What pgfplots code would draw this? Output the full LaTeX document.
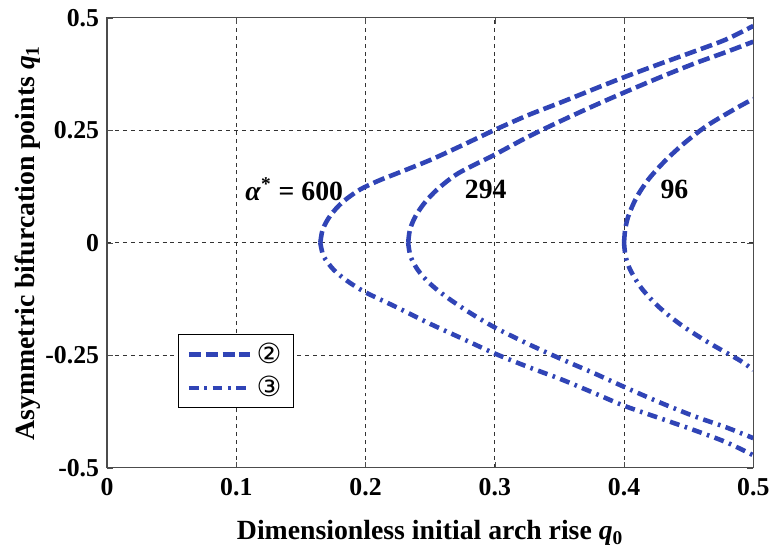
\documentclass[border=0pt]{standalone}
\usepackage{fontspec}
\setmainfont{Liberation Serif}
\newfontfamily\djv{DejaVu Sans}
\usepackage{pgfplots}
\pgfplotsset{compat=1.18}
\definecolor{cblue}{RGB}{48,68,182}
\begin{document}
\begin{tikzpicture}
\begin{axis}[
 width=326pt, height=227pt, scale only axis,
 xmin=0,xmax=0.5,ymin=-0.5,ymax=0.5,
 xtick={0,0.1,0.2,0.3,0.4,0.5}, xticklabels={0,0.1,0.2,0.3,0.4,0.5},
 ytick={-0.5,-0.25,0,0.25,0.5}, yticklabels={-0.5,-0.25,0,0.25,0.5},
 grid=major, grid style={black!80, dash pattern=on 2pt off 2pt, line width=0.4pt},
 axis line style={gray!60!black, line width=0.6pt},
 tick style={gray!60!black},
 tick align=inside, major tick length=3pt,
 ticklabel style={font=\fontsize{13}{15}\selectfont\bfseries},
 xticklabel style={yshift=-2pt},
 yticklabel style={xshift=-0.5pt},
 xlabel={Dimensionless initial arch rise \textbf{\textit{q}}\textsubscript{0}},
 ylabel={Asymmetric bifurcation points \textbf{\textit{q}}\textsubscript{1}},
 label style={font=\fontsize{14}{16}\selectfont\bfseries},
 xlabel style={at={(axis description cs:0.5,-0.145)}, anchor=center},
 ylabel style={at={(axis description cs:-0.1227,0.5)}, anchor=center},
 legend style={at={(axis cs:0.055,-0.203)}, anchor=north west, draw=black, line width=0.6pt,
   font=\djv\fontsize{14}{16}\selectfont, row sep=1pt, inner xsep=4pt, inner ysep=2pt},
 legend cell align=left,
 legend image code/.code={\draw[#1] (0pt,0pt) -- (31pt,0pt);},
]
\pgfplotsset{
 up/.style={cblue, line width=2.3pt, dash pattern=on 6pt off 2.5pt, line join=round, smooth},
 lo/.style={cblue, line width=2.3pt, dash pattern=on 5pt off 2.8pt on 1.3pt off 2.8pt, line join=round, smooth},
}
% alpha* = 600
\addplot[up] coordinates {(0.165,0) (0.1669,0.03) (0.1726,0.06) (0.182,0.09) (0.1955,0.118) (0.21,0.138) (0.224,0.154) (0.25,0.184) (0.275,0.217) (0.3,0.251) (0.326,0.284) (0.352,0.313) (0.377,0.342) (0.4,0.368) (0.428,0.398) (0.454,0.425) (0.479,0.452) (0.5,0.482)};
\addlegendentry{②}
\addplot[lo] coordinates {(0.165,0) (0.1676,-0.03) (0.1754,-0.06) (0.186,-0.085) (0.2,-0.11) (0.224,-0.143) (0.25,-0.18) (0.275,-0.213) (0.3,-0.246) (0.326,-0.276) (0.352,-0.304) (0.377,-0.334) (0.4,-0.362) (0.428,-0.39) (0.454,-0.416) (0.479,-0.443) (0.5,-0.472)};
\addlegendentry{③}
% alpha* = 294
\addplot[up, forget plot] coordinates {(0.233,0) (0.2344,0.03) (0.2388,0.06) (0.246,0.09) (0.256,0.12) (0.272,0.155) (0.3,0.196) (0.326,0.236) (0.352,0.272) (0.377,0.305) (0.4,0.334) (0.428,0.368) (0.454,0.398) (0.479,0.424) (0.5,0.447)};
\addplot[lo, forget plot] coordinates {(0.233,0) (0.2348,-0.03) (0.2404,-0.06) (0.2496,-0.09) (0.2625,-0.12) (0.28,-0.154) (0.3,-0.188) (0.326,-0.225) (0.352,-0.259) (0.377,-0.29) (0.4,-0.32) (0.428,-0.355) (0.454,-0.385) (0.479,-0.41) (0.5,-0.434)};
% alpha* = 96
\addplot[up, forget plot] coordinates {(0.4,0) (0.4009,0.03) (0.4034,0.06) (0.4095,0.1) (0.4186,0.14) (0.431,0.18) (0.446,0.22) (0.464,0.26) (0.4855,0.297) (0.5,0.32)};
\addplot[lo, forget plot] coordinates {(0.4,0) (0.4012,-0.03) (0.4048,-0.06) (0.4133,-0.1) (0.426,-0.14) (0.443,-0.18) (0.4644,-0.22) (0.49,-0.262) (0.5,-0.283)};
\node[font=\fontsize{14}{16}\selectfont\bfseries, anchor=east] at (axis cs:0.188,0.119) {\textit{α}\textsuperscript{*} = 600};
\node[font=\fontsize{14}{16}\selectfont\bfseries] at (axis cs:0.293,0.119) {294};
\node[font=\fontsize{14}{16}\selectfont\bfseries] at (axis cs:0.439,0.119) {96};
\end{axis}
\path[use as bounding box] (-54pt,-40pt) rectangle (334pt,236pt);
\end{tikzpicture}
\end{document}
